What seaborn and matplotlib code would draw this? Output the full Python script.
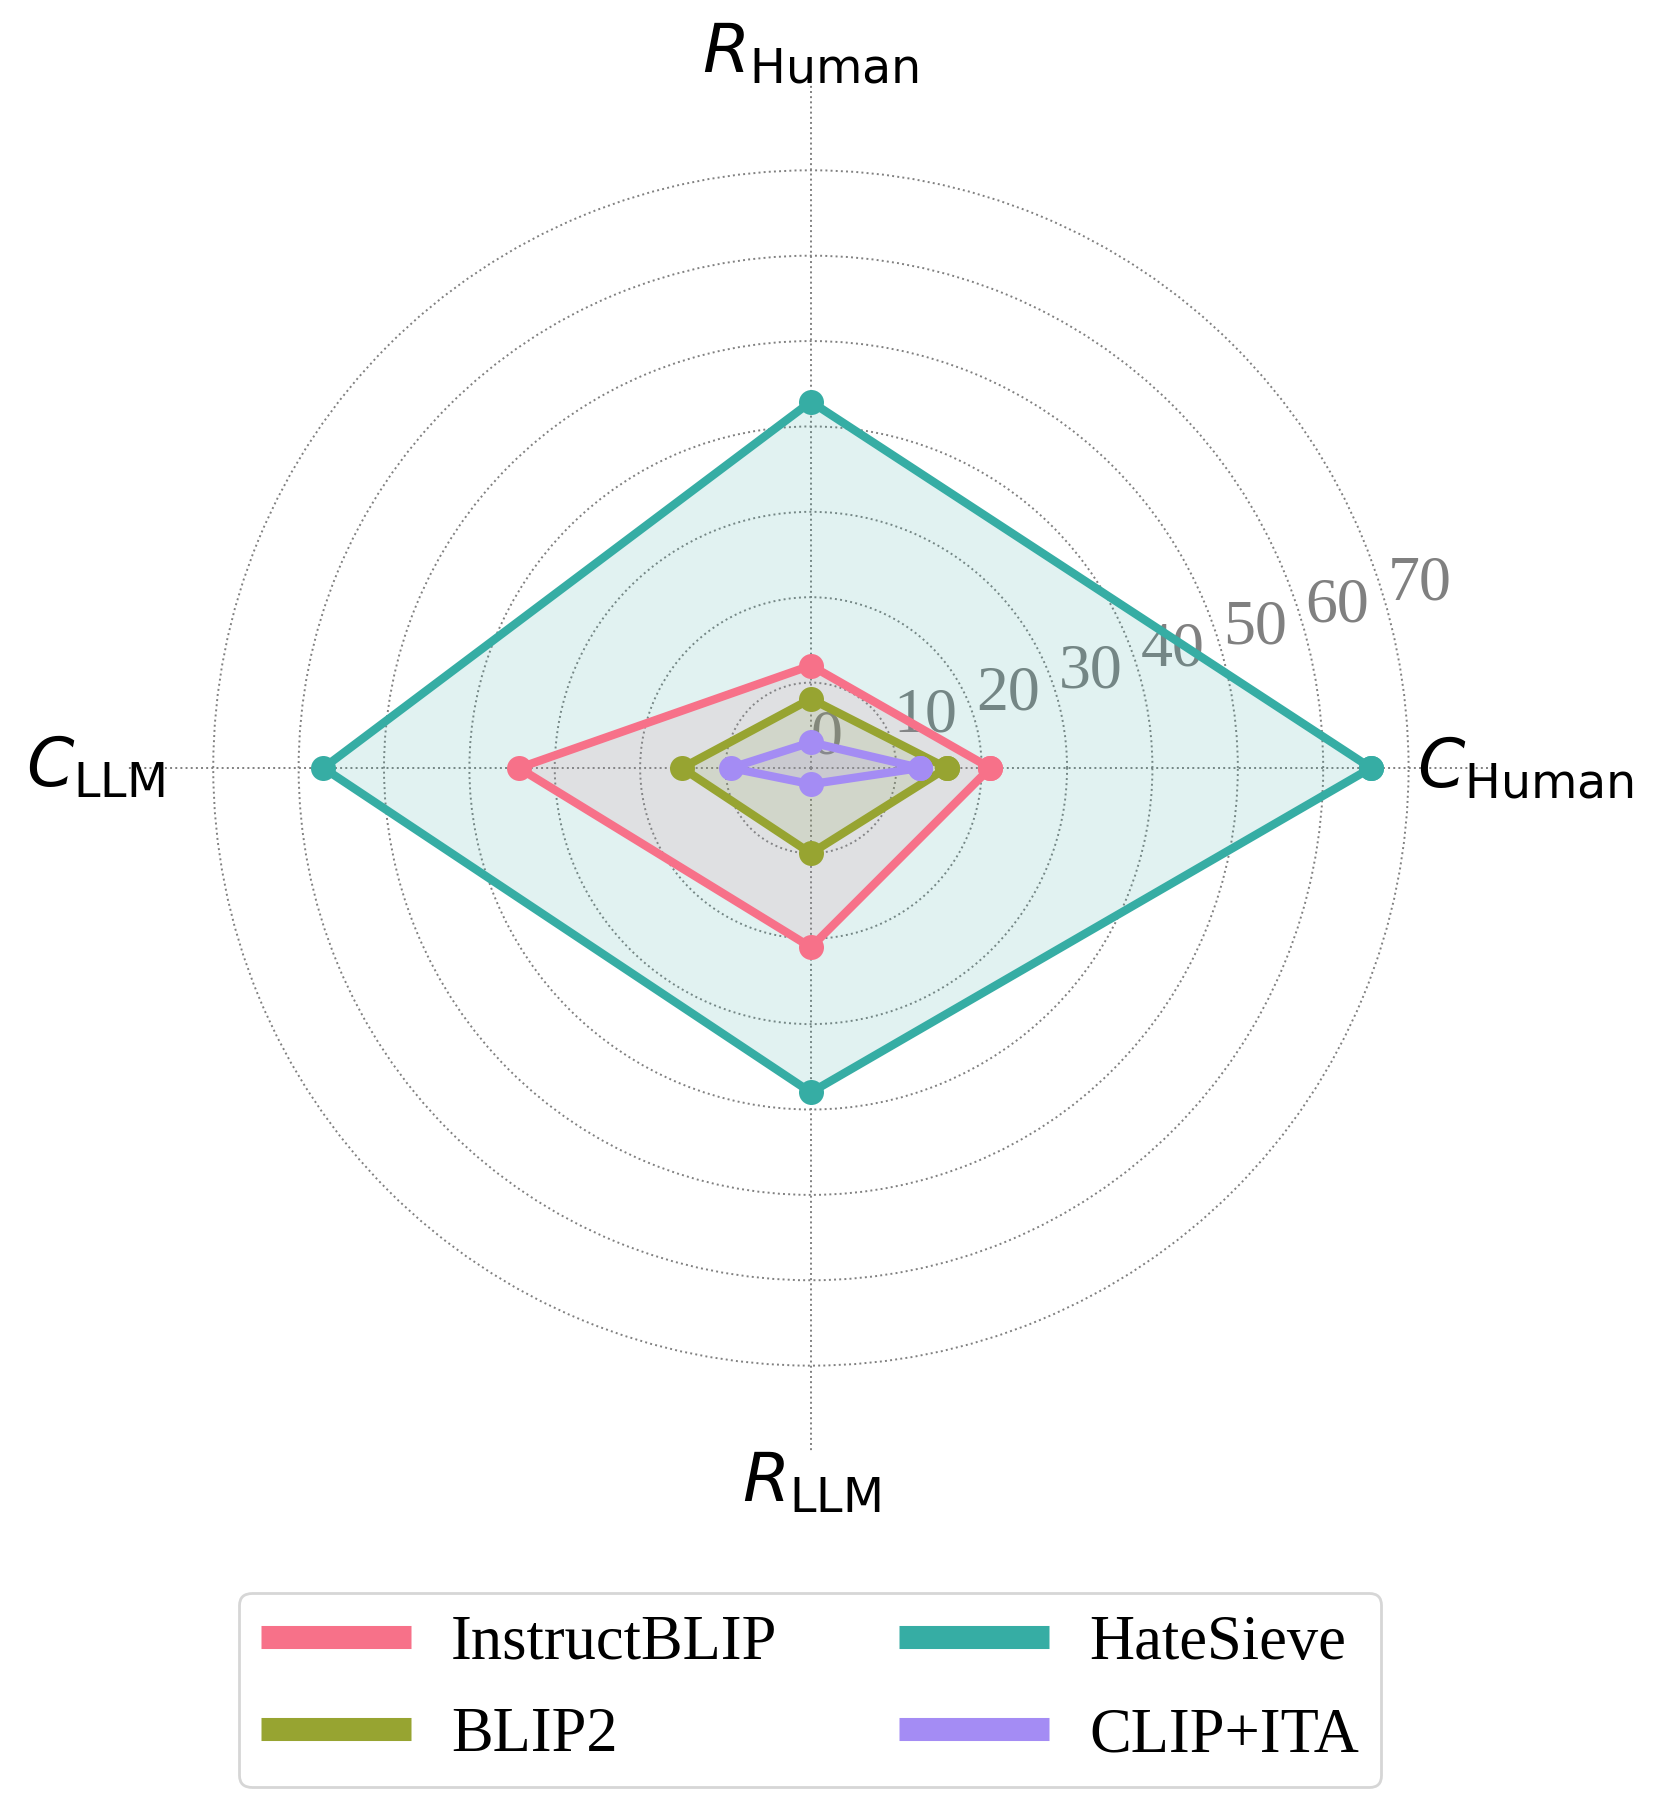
import numpy as np
import matplotlib
matplotlib.use("Agg")
import matplotlib.pyplot as plt
import seaborn as sns
import pandas as pd
from matplotlib.lines import Line2D

# ---- data ----
axes_labels = [r"$C_{\mathrm{Human}}$", r"$R_{\mathrm{Human}}$", r"$C_{\mathrm{LLM}}$", r"$R_{\mathrm{LLM}}$"]
models = ["InstructBLIP", "BLIP2", "HateSieve", "CLIP+ITA"]
instructblip = [21.0, 12.0, 34.2, 21.0]
blip2 = [15.9, 8.1, 15.1, 10.0]
hatesieve = [65.6, 42.9, 57.1, 38.0]
clip_ita = [12.8, 3.0, 9.4, 1.9]
series = [instructblip, blip2, hatesieve, clip_ita]
r_ticks = [0, 10, 20, 30, 40, 50, 60, 70]
r_max = 80

sns.set_style("white")
palette = sns.color_palette("husl", 4)

fig = plt.figure(figsize=(8.3, 9.035), dpi=200)
ax = fig.add_axes([0.077, 0.197, 0.823, 0.756], projection="polar")

n = len(axes_labels)
angles = np.linspace(0, 2 * np.pi, n, endpoint=False)
angles_closed = np.concatenate([angles, angles[:1] + 2 * np.pi])

for name, vals, col in zip(models, series, palette):
    v = np.concatenate([vals, vals[:1]])
    df = pd.DataFrame({"theta": angles_closed, "r": v})
    sns.lineplot(data=df, x="theta", y="r", sort=False, estimator=None, ax=ax,
                 color=col, linewidth=3.0, marker="o", markersize=9,
                 markeredgewidth=0, zorder=3, legend=False)
    ax.fill(angles_closed, v, color=col, alpha=0.15, zorder=1, linewidth=0)

ax.set_xticks(angles)
ax.set_xticklabels(axes_labels, fontsize=24.5, family="DejaVu Sans", color="black")
ax.set_ylim(0, r_max)
ax.set_yticks(r_ticks)
ax.set_yticklabels([str(t) for t in r_ticks], fontsize=23, color="gray",
                   family="Liberation Serif")
ax.set_rlabel_position(15)
ax.set_xlabel("")
ax.set_ylabel("")
ax.tick_params(axis="x", pad=1)
ax.grid(True, color="gray", linestyle=":", linewidth=0.7)
ax.spines["polar"].set_visible(False)

handles = [Line2D([0], [0], color=c, linewidth=8.3, solid_capstyle="butt") for c in palette]
leg = fig.legend(handles, models, loc="lower center", bbox_to_anchor=(0.488, 0.011),
                 ncol=2, frameon=True, prop={"family": "Liberation Serif", "size": 22.5},
                 labelcolor="black", handlelength=2.4, handletextpad=0.64,
                 columnspacing=1.95, labelspacing=0.55, borderpad=0.35,
                 borderaxespad=0)

fig.savefig("out.png", dpi=200)
